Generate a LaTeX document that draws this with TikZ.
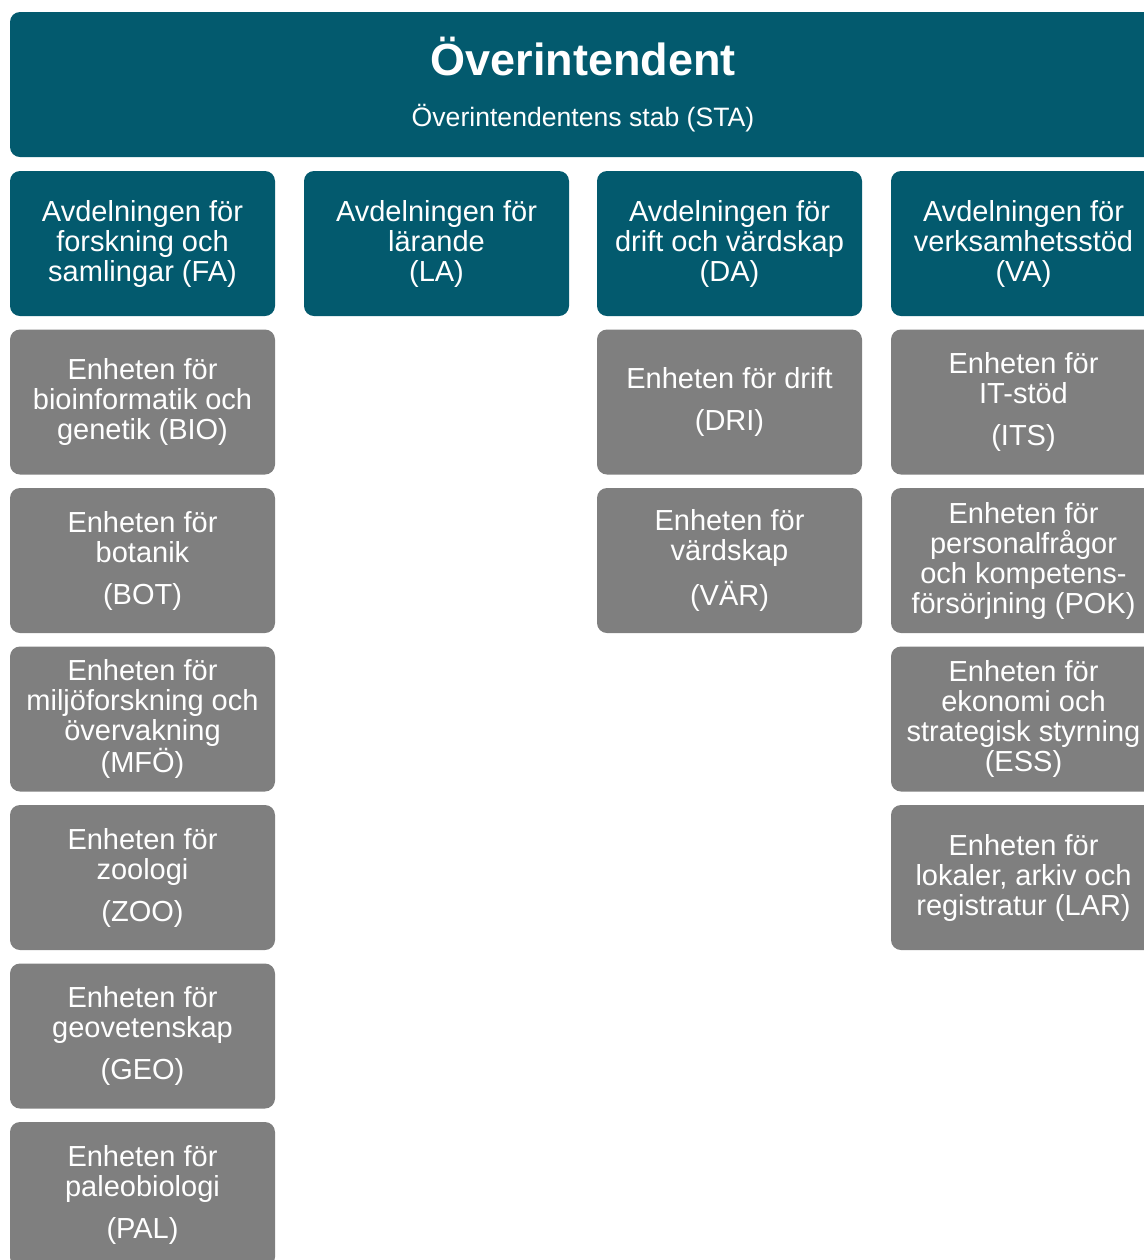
\documentclass[tikz,border=0pt]{standalone}
\usepackage{fontspec}
\setmainfont{Liberation Sans}
\usepackage{tikz}
\usetikzlibrary{positioning}
\definecolor{NrmTeal}{HTML}{035A6E}
\definecolor{NrmGray}{HTML}{7F7F7F}
\tikzset{
  topnode/.style={fill=NrmTeal,rounded corners=5pt,
    minimum width=573pt,minimum height=72.5pt,inner sep=0pt},
  avdnode/.style={fill=NrmTeal,rounded corners=5pt,
    minimum width=132.5pt,minimum height=72.5pt,
    font=\fontsize{14.5}{15}\selectfont\color{white},
    align=center,inner sep=0pt},
  enhnode/.style={fill=NrmGray,rounded corners=5pt,
    minimum width=132.5pt,minimum height=72.5pt,
    font=\fontsize{14.5}{15}\selectfont\color{white},
    align=center,inner sep=0pt},
  titeltext/.style={anchor=base,inner sep=0pt,
    font=\fontsize{22.5}{27}\selectfont\bfseries\color{white}},
  stabtext/.style={anchor=base,inner sep=0pt,
    font=\fontsize{13.3}{16}\selectfont\color{white}},
}
\begin{document}
\begin{tikzpicture}[x=0.5pt,y=-0.5pt]
  \useasboundingbox (0,0) rectangle (1144,1260);
  \clip (0,0) rectangle (1144,1260);
  % Top node
  \node[topnode] (oi) at (583,84.5) {};
  \node[titeltext] (oititel) at (583,75) {Överintendent};
  \node[stabtext] (sta) at (583,126) {Överintendentens stab (STA)};
  % Division nodes
  \node[avdnode] (fa) at (142.5,243.5) {Avdelningen för\\forskning och\\samlingar (FA)};
  \node[avdnode] (la) at (436.5,243.5) {Avdelningen för\\lärande\\(LA)};
  \node[avdnode] (da) at (729.5,243.5) {Avdelningen för\\drift och värdskap\\(DA)};
  \node[avdnode] (va) at (1023.5,243.5) {Avdelningen för\\verksamhetsstöd\\(VA)};
  % Unit nodes, FA
  \node[enhnode] (bio) at (142.5,402) {Enheten för\\bioinformatik och\\genetik (BIO)};
  \node[enhnode] (bot) at (142.5,560.5) {Enheten för\\botanik\\[6pt](BOT)};
  \node[enhnode] (mfo) at (142.5,719) {Enheten för\\miljöforskning och\\övervakning\\(MFÖ)};
  \node[enhnode] (zoo) at (142.5,877.5) {Enheten för\\zoologi\\[6pt](ZOO)};
  \node[enhnode] (geo) at (142.5,1036) {Enheten för\\geovetenskap\\[6pt](GEO)};
  \node[enhnode] (pal) at (142.5,1194.5) {Enheten för\\paleobiologi\\[6pt](PAL)};
  % Unit nodes, DA
  \node[enhnode] (dri) at (729.5,402) {Enheten för drift\\[6pt](DRI)};
  \node[enhnode] (var) at (729.5,560.5) {Enheten för\\värdskap\\[6pt](VÄR)};
  % Unit nodes, VA
  \node[enhnode] (its) at (1023.5,402) {Enheten för\\IT-stöd\\[6pt](ITS)};
  \node[enhnode] (pok) at (1023.5,560.5) {Enheten för\\personalfrågor\\och kompetens-\\försörjning (POK)};
  \node[enhnode] (ess) at (1023.5,719) {Enheten för\\ekonomi och\\strategisk styrning\\(ESS)};
  \node[enhnode] (lar) at (1023.5,877.5) {Enheten för\\lokaler, arkiv och\\registratur (LAR)};
\end{tikzpicture}
\end{document}
